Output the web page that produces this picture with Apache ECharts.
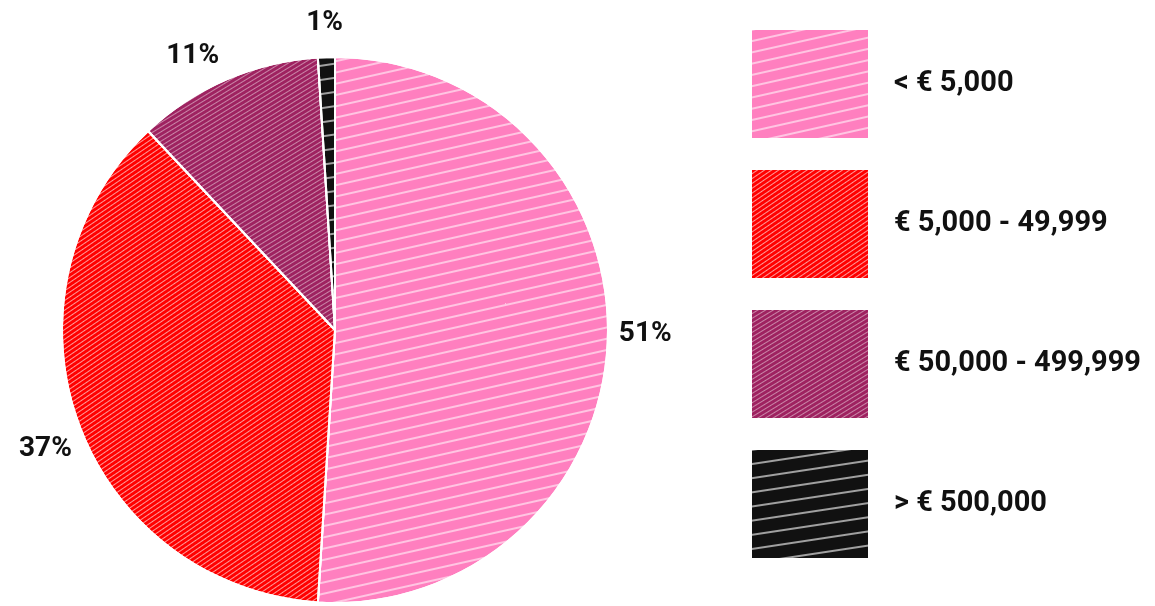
<!DOCTYPE html>
<html><head><meta charset="utf-8">
<script src="https://cdn.jsdelivr.net/npm/echarts@6/dist/echarts.min.js"></script>
<style>html,body{margin:0;padding:0;background:#fff}#c{width:1155px;height:606px}</style>
</head><body><div id="c"></div>
<script>
const categories = ['< € 5,000', '€ 5,000 - 49,999', '€ 50,000 - 499,999', '> € 500,000'];
const shares = [51, 37, 11, 1];
const colors = ['#ff7fbf', '#ff0000', '#9e2260', '#111111'];
const decals = [
  {symbol:'rect', dashArrayX:[1,0], dashArrayY:[2,9], rotation:-0.22, color:'rgba(255,255,255,0.55)'},
  {symbol:'rect', dashArrayX:[1,0], dashArrayY:[1,3], rotation:-0.6, color:'rgba(255,255,255,0.6)'},
  {symbol:'rect', dashArrayX:[1,0], dashArrayY:[1,3], rotation:-0.55, color:'rgba(255,255,255,0.45)'},
  {symbol:'rect', dashArrayX:[1,0], dashArrayY:[2,12], rotation:-0.15, color:'rgba(255,255,255,0.6)'}
];
// fine label nudges (style only)
const labelNudge = [[-6,-5],[10,22],[12,-19],[22,-22]];
const chart = echarts.init(document.getElementById('c'));
chart.setOption({
  animation:false,
  color: colors,
  legend:{
    orient:'vertical', left:745, top:23,
    itemWidth:118, itemHeight:110, itemGap:28,
    icon:'rect',
    textStyle:{fontFamily:'Roboto', fontWeight:'bold', fontSize:29, color:'#111', padding:[0,0,0,20]},
    data: categories
  },
  series:[{
    type:'pie',
    center:[335,330], radius:[0,273],
    startAngle:90, clockwise:true,
    label:{show:true, position:'outside', formatter:'{c}%', overflow:'none', fontFamily:'Roboto', fontWeight:'bold', fontSize:28, color:'#111'},
    labelLine:{show:false, length:12, length2:0},
    labelLayout: function(p){ const n = labelNudge[p.dataIndex]; return {dx:n[0], dy:n[1]}; },
    itemStyle:{borderColor:'#fff', borderWidth:2},
    emphasis:{disabled:true},
    data: categories.map((n,i)=>({name:n, value:shares[i], itemStyle:{color:colors[i], decal:decals[i]}}))
  }]
});
</script></body></html>
